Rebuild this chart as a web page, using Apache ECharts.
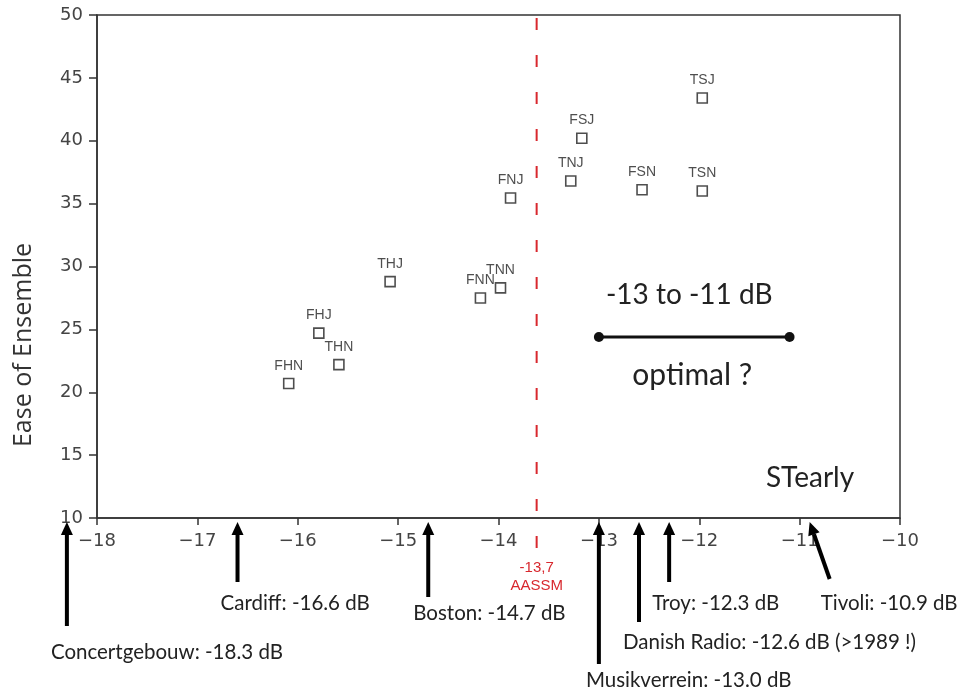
<!DOCTYPE html>
<html>
<head>
<meta charset="utf-8">
<script src="https://cdn.jsdelivr.net/npm/echarts@6/dist/echarts.min.js"></script>
<style>
html,body{margin:0;padding:0;background:#fff;}
#chart{width:962px;height:695px;}
</style>
</head>
<body>
<div id="chart"></div>
<script>
// ---- data ----
const pointNames = ['FHN','FHJ','THN','THJ','FNN','TNN','FNJ','TNJ','FSJ','FSN','TSN','TSJ'];
const pointX = [-16.09,-15.79,-15.59,-15.08,-14.18,-13.98,-13.88,-13.28,-13.17,-12.57,-11.97,-11.97];
const pointY = [20.7,24.7,22.2,28.8,27.5,28.3,35.45,36.8,40.2,36.1,36.0,43.4];

const optimalRange = [-13.0, -11.1];
const optimalY = 24.4;
const optimalText = '-13 to -11 dB';
const optimalSub = 'optimal ?';

const aassmValue = -13.62;
const aassmText = ['-13,7', 'AASSM'];

const hallNames = ['Concertgebouw','Cardiff','Boston','Musikverrein','Danish Radio','Troy','Tivoli'];
const hallValues = [-18.3,-16.6,-14.7,-13.0,-12.6,-12.3,-10.9];
const hallSuffix = ['','','','',' (>1989 !)','',''];

const xMin = -18, xMax = -10, xStep = 1;
const yMin = 10, yMax = 50, yStep = 5;
const yTitle = 'Ease of Ensemble';
const xTitle = 'STearly';

// ---- chart ----
const chart = echarts.init(document.getElementById('chart'), null, {renderer:'canvas'});
const axisColor = '#333';
const tickFont = 'DejaVu Sans';
const labelFont = 'Liberation Sans';
const noteFont = 'Lato';

chart.setOption({
  animation:false,
  backgroundColor:'#fff',
  grid:{left:97,right:62,top:15,bottom:177,show:true,borderColor:axisColor,borderWidth:1.5,containLabel:false},
  xAxis:{
    type:'value',min:xMin,max:xMax,interval:xStep,
    axisLine:{show:true,onZero:false,lineStyle:{color:axisColor,width:1.5}},
    axisTick:{show:true,inside:false,length:7,lineStyle:{color:axisColor,width:1.5}},
    splitLine:{show:false},
    axisLabel:{margin:14,color:'#444',fontSize:18,fontFamily:tickFont,
      formatter:v=> (v<0?'\u2212':'')+Math.abs(v)}
  },
  yAxis:{
    type:'value',min:yMin,max:yMax,interval:yStep,
    axisLine:{show:true,onZero:false,lineStyle:{color:axisColor,width:1.5}},
    axisTick:{show:true,inside:false,length:8,lineStyle:{color:axisColor,width:1.5}},
    splitLine:{show:false},
    axisLabel:{margin:14,color:'#444',fontSize:18,fontFamily:tickFont}
  },
  series:[
    {
      type:'scatter',
      symbol:'rect',symbolSize:10,
      itemStyle:{color:'#fff',borderColor:'#222',borderWidth:1.6},
      label:{show:true,position:'top',distance:5,color:'#222',fontSize:14,fontFamily:labelFont,
        formatter:p=>p.name},
      data:pointNames.map((n,i)=>({name:n,value:[pointX[i],pointY[i]]})),
      z:5
    },
    {
      type:'line',
      symbol:'circle',symbolSize:10,
      lineStyle:{color:'#111',width:3},
      itemStyle:{color:'#111'},
      data:optimalRange.map(x=>[x,optimalY]),
      z:4
    }
  ]
});

function px(x,y){ return chart.convertToPixel({gridIndex:0},[x,y]); }

const g = [];
// y-axis title
g.push({type:'text',x:24,y:345,rotation:Math.PI/2,
  style:{text:yTitle,fill:'#333',font:'25px "Open Sans"',align:'center',verticalAlign:'middle'}});

// red AASSM line
const topP = px(aassmValue,yMax), botP = px(aassmValue,yMin);
g.push({type:'line',shape:{x1:topP[0],y1:topP[1]+3,x2:topP[0],y2:botP[1]+35},
  style:{stroke:'#d8282e',lineWidth:2,lineDash:[12,25]},z:3});
g.push({type:'text',x:topP[0],y:botP[1]+59,
  style:{text:aassmText.join('\n'),fill:'#d8282e',font:'15px "Liberation Sans"',align:'center',verticalAlign:'middle',lineHeight:18}});

// optimal texts
const cMid = px((optimalRange[0]+optimalRange[1])/2, optimalY);
g.push({type:'text',x:cMid[0]-5,y:cMid[1]-42,
  style:{text:optimalText,fill:'#222',font:'28px '+noteFont,align:'center',verticalAlign:'middle'}});
g.push({type:'text',x:cMid[0]-2,y:cMid[1]+38,
  style:{text:optimalSub,fill:'#222',font:'30px '+noteFont,align:'center',verticalAlign:'middle'}});
// STearly
const stP = px(xMax, yMin);
g.push({type:'text',x:stP[0]-90,y:stP[1]-40,
  style:{text:xTitle,fill:'#222',font:'28px '+noteFont,align:'center',verticalAlign:'middle'}});

// hall arrows (layout: shaft length and text offsets below the axis)
const shaftLen = [104,60,75,142,100,60,60];
const textDy   = [134,85,95,162,124,85,85];
const textDx   = [-16,-17,-15,-13,-16,-17,-9];
hallNames.forEach((n,i)=>{
  const p = px(hallValues[i], yMin);
  const tipX = p[0], tipY = p[1]+4;
  let tailX = tipX, tailY = tipY+shaftLen[i];
  if (i===6){ tailX = tipX+20; tailY = tipY+57; }
  const dx = tailX-tipX, dy = tailY-tipY, L = Math.hypot(dx,dy);
  const ux = dx/L, uy = dy/L;
  const hl = 13, hw = 6;
  const bx = tipX+ux*hl, by = tipY+uy*hl;
  g.push({type:'line',shape:{x1:bx,y1:by,x2:tailX,y2:tailY},style:{stroke:'#000',lineWidth:4},z:10});
  g.push({type:'polygon',shape:{points:[[tipX,tipY],[bx-uy*hw,by+ux*hw],[bx+uy*hw,by-ux*hw]]},style:{fill:'#000'},z:10});
  g.push({type:'text',x:tailX+textDx[i],y:p[1]+textDy[i],
    style:{text:n+': '+hallValues[i].toFixed(1)+' dB'+hallSuffix[i],fill:'#222',font:'20.5px '+noteFont,align:'left',verticalAlign:'middle'},z:10});
});

chart.setOption({graphic:g});
</script>
</body>
</html>
